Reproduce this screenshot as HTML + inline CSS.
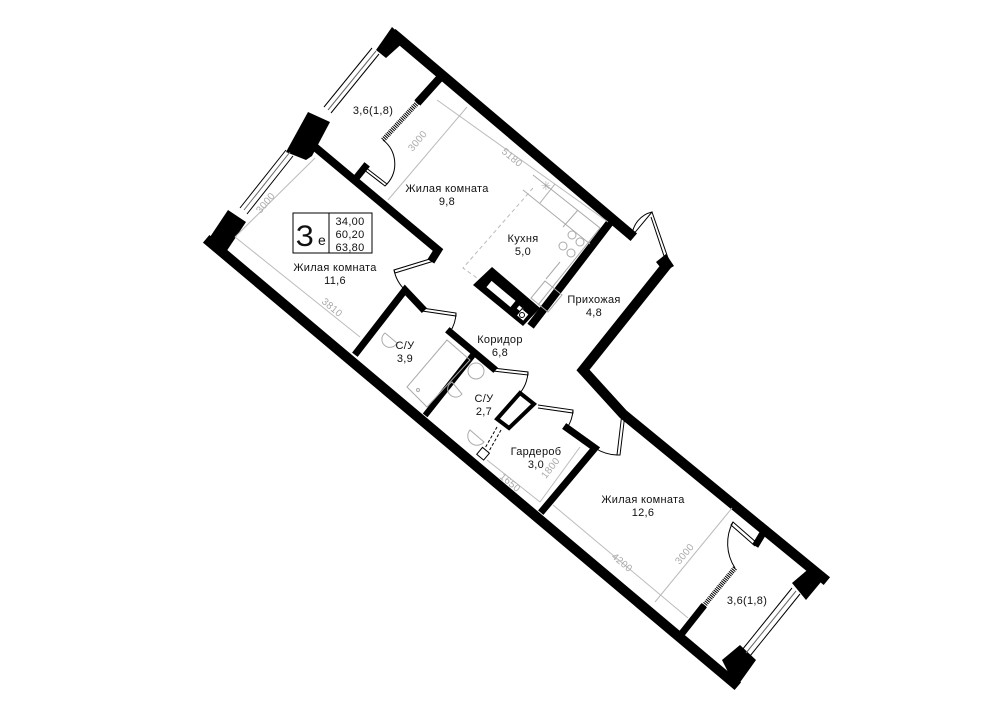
<!DOCTYPE html>
<html><head><meta charset="utf-8"><style>
html,body{margin:0;padding:0;background:#fff;}
svg{display:block}
text{font-family:"Liberation Sans",sans-serif;font-size:11px;fill:#111;text-anchor:middle;letter-spacing:0.3px}
.d{font-size:10px;fill:#aaa}
</style></head><body>
<svg width="1000" height="707" viewBox="0 0 1000 707" xmlns="http://www.w3.org/2000/svg">
<g stroke="#000" fill="none" stroke-linecap="square" stroke-linejoin="miter">
<line x1="396" y1="36" x2="630" y2="234" stroke-width="10"/>
<polyline points="666,266 583,370 623,414 823,578" stroke-width="10"/>
<line x1="210" y1="242" x2="734" y2="683" stroke-width="10"/>
</g>
<g fill="#000">
<polygon points="208,240 228,210 246,222 226,252"/>
<polygon points="286,152 308,112 330,122 312,156 306,160"/>
<polygon points="376,50 392,27 406,40 386,58"/>
<polygon points="656,262 666,254 674,266 664,272"/>
<polygon points="792,583 812,566 826,576 806,600"/>
<polygon points="722,660 740,645 756,660 736,688"/>
<polygon points="473,285 492,267 540,308 523,326"/>
</g>
<g stroke="#fff" fill="none">
<line x1="489" y1="284" x2="513" y2="304" stroke-width="8"/>
<line x1="518" y1="307" x2="523" y2="311" stroke-width="4"/>
</g>
<rect x="518" y="310" width="9" height="9" fill="#fff" stroke="#000" transform="rotate(40 522 315)"/>
<circle cx="522" cy="315" r="2.5" fill="none" stroke="#000"/>
<g stroke="#000" fill="none" stroke-width="1">
<line x1="240" y1="208" x2="286" y2="150"/><line x1="247" y1="214" x2="293" y2="156"/>
<line x1="244" y1="210" x2="290" y2="152" stroke="#666"/>
<line x1="324" y1="107" x2="372" y2="48"/><line x1="331" y1="113" x2="379" y2="54"/>
<line x1="328" y1="110" x2="376" y2="51" stroke="#666"/>
<line x1="792" y1="588" x2="742" y2="650"/><line x1="800" y1="594" x2="750" y2="656"/>
<line x1="796" y1="591" x2="746" y2="653" stroke="#666"/>
</g>
<g stroke="#000" fill="none" stroke-linecap="square">
<polyline points="310,143 438,250 433,258" stroke-width="8"/>
<polyline points="438,80 420,100" stroke-width="8"/>
<line x1="357" y1="177" x2="365" y2="167" stroke-width="7"/>
<polyline points="608,225 533,323" stroke-width="8"/>
<polyline points="357,352 405,290 422,308" stroke-width="7"/>
<line x1="450" y1="332" x2="493" y2="368" stroke-width="7"/>
<line x1="473" y1="355" x2="427" y2="413" stroke-width="6"/>
<polyline points="567,428 595,448 543,510" stroke-width="7"/>
<polyline points="763,533 757,543" stroke-width="7"/>
<line x1="702" y1="608" x2="683" y2="632" stroke-width="7"/>
</g>
<polygon points="520,393 534,404 509,428 497,419" fill="#fff" stroke="#000" stroke-width="4"/>
<g stroke="#000" stroke-width="5" fill="none">
<line x1="383" y1="140" x2="420" y2="100" stroke-dasharray="1 1"/>
<line x1="735" y1="568" x2="702" y2="608" stroke-dasharray="1 1"/>
</g>
<g stroke="#000" fill="none" stroke-width="1">
<polyline points="365,167 387,184 385,186 363,169"/>
<path d="M387,184 A30,30 0 0 0 383,140"/>
<polyline points="433,258 394,270 395,273 434,261"/>
<path d="M394,270 A38,38 0 0 0 405,290"/>
<polyline points="422,308 456,313 456,316 422,311"/>
<path d="M456,313 A36,36 0 0 1 450,332"/>
<polyline points="493,368 528,372 528,375 493,371"/>
<path d="M528,372 A36,36 0 0 1 520,393"/>
<polyline points="538,405 573,410 573,413 538,408"/>
<path d="M573,410 A36,36 0 0 1 567,428"/>
<polyline points="622,413 617,455 620,455 625,414"/>
<path d="M617,455 A42,42 0 0 1 595,448"/>
<polyline points="632,236 652,212 668,258 665,259 651,217"/>
<path d="M632,236 A26,26 0 0 1 652,212"/>
<polyline points="757,543 733,522 731,525 755,546"/>
<path d="M733,522 A45,45 0 0 0 735,568"/>
<line x1="497" y1="427" x2="480" y2="457" stroke-dasharray="3 2"/>
<line x1="501" y1="430" x2="484" y2="460" stroke-dasharray="3 2"/>
</g>
<rect x="479" y="449" width="9" height="9" fill="#fff" stroke="#000" transform="rotate(40 483 453)"/>
<g stroke="#bbb" stroke-width="1" fill="none">
<line x1="437" y1="100" x2="608" y2="222"/>
<line x1="467" y1="107" x2="388" y2="200"/>
<line x1="315" y1="158" x2="235" y2="237"/>
<line x1="235" y1="237" x2="360" y2="337"/>
<line x1="487" y1="460" x2="540" y2="502"/>
<line x1="540" y1="502" x2="580" y2="447"/>
<line x1="553" y1="505" x2="688" y2="618"/>
<line x1="655" y1="602" x2="732" y2="508"/>
<polyline points="533,188 463,268 477,278" stroke-dasharray="4 3"/>
</g>
<g stroke="#aaa" stroke-width="1" fill="none">
<polyline points="533,175 600,228 538,305"/>
<line x1="523" y1="190" x2="590" y2="244"/>
<line x1="555" y1="184" x2="540" y2="203"/>
<line x1="578" y1="210" x2="563" y2="227"/>
<circle cx="572" cy="235" r="4"/><circle cx="580" cy="242" r="4"/><circle cx="563" cy="246" r="4"/><circle cx="571" cy="253" r="4"/>
<line x1="560" y1="262" x2="546" y2="279" />
<polygon points="545,281 562,295 548,312 531,298"/>
<polygon points="407,387 447,340 470,360 427,407"/>
<circle cx="418" cy="390" r="1.5"/>
<path d="M385,333 a8,8 0 1 0 12,10 z"/>
<circle cx="476" cy="371" r="8"/>
<path d="M452,382 a8,8 0 1 0 10,12 z"/>
<path d="M470,430 a9,9 0 1 0 14,12 z"/>
</g>
<text x="546" y="190" class="d" style="font-size:12px">✳</text>
<g class="d">
<text class="d" transform="translate(510,160) rotate(40)">5180</text>
<text class="d" transform="translate(420,143) rotate(-50)">3000</text>
<text class="d" transform="translate(268,205) rotate(-50)">3000</text>
<text class="d" transform="translate(330,310) rotate(40)">3810</text>
<text class="d" transform="translate(508,485) rotate(40)">1650</text>
<text class="d" transform="translate(553,470) rotate(-52)">1800</text>
<text class="d" transform="translate(620,565) rotate(40)">4200</text>
<text class="d" transform="translate(687,556) rotate(-50)">3000</text>
</g>
<text x="373" y="114">3,6(1,8)</text>
<text x="447" y="192">Жилая комната</text><text x="447" y="205">9,8</text>
<text x="523" y="242">Кухня</text><text x="523" y="255">5,0</text>
<text x="335" y="271">Жилая комната</text><text x="335" y="284">11,6</text>
<text x="594" y="303">Прихожая</text><text x="594" y="316">4,8</text>
<text x="500" y="343">Коридор</text><text x="500" y="356">6,8</text>
<text x="405" y="349">С/У</text><text x="405" y="362">3,9</text>
<text x="484" y="402">С/У</text><text x="484" y="415">2,7</text>
<text x="536" y="455">Гардероб</text><text x="536" y="468">3,0</text>
<text x="643" y="503">Жилая комната</text><text x="643" y="516">12,6</text>
<text x="747" y="604">3,6(1,8)</text>
<rect x="293" y="213" width="79" height="40" fill="#fff" stroke="#000" stroke-width="1"/>
<line x1="329" y1="213" x2="329" y2="253" stroke="#000" stroke-width="1"/>
<text x="305" y="246" style="font-size:30px">З</text>
<text x="322" y="245" style="font-size:14px">e</text>
<text x="350" y="225">34,00</text>
<text x="350" y="238">60,20</text>
<text x="350" y="251">63,80</text>
</svg>
</body></html>
